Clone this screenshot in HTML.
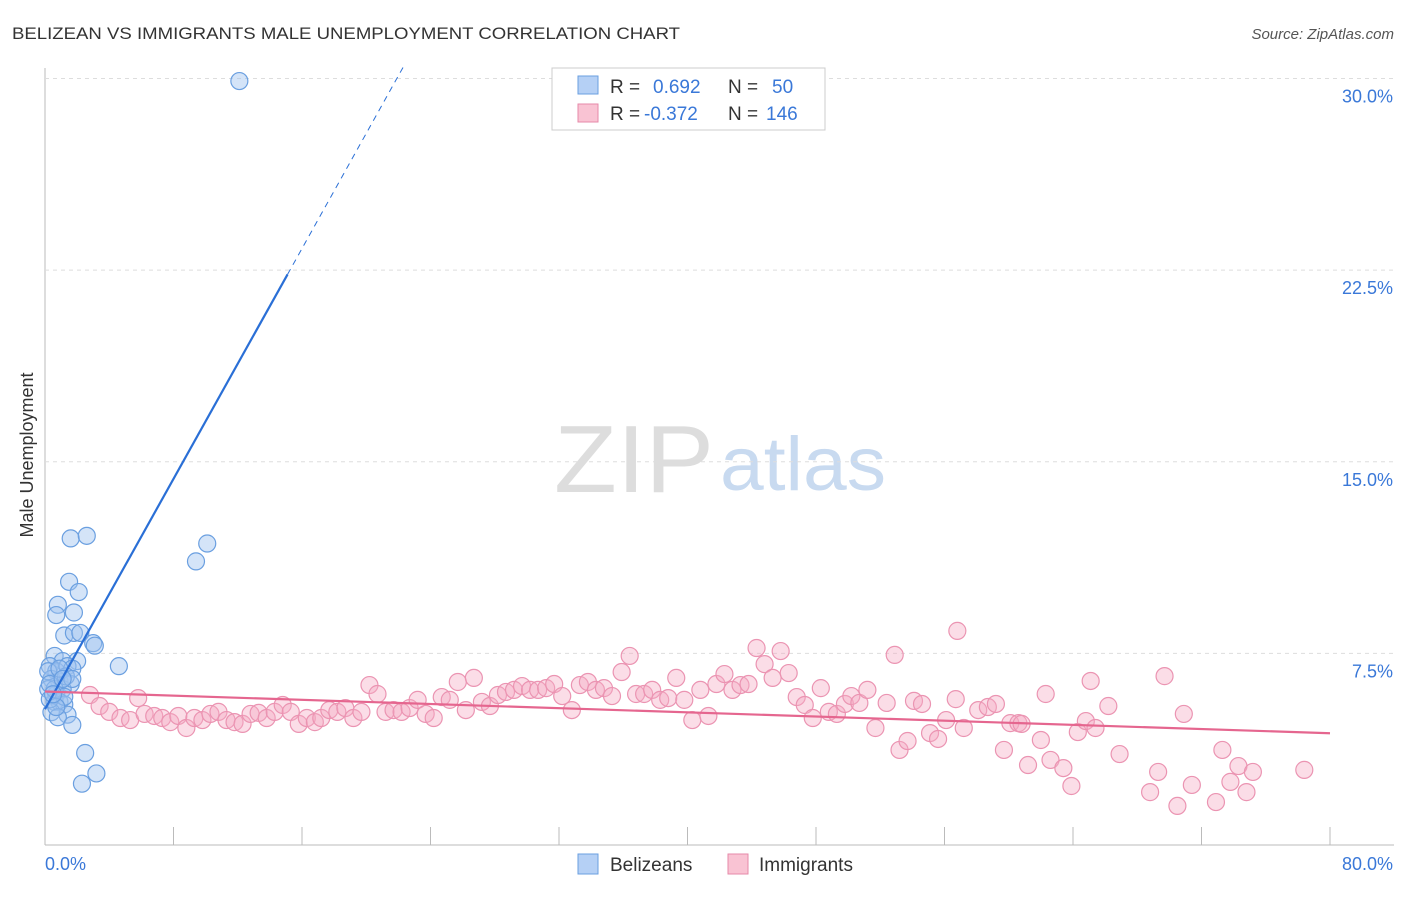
<!DOCTYPE html>
<html><head><meta charset="utf-8"><style>
body{margin:0;background:#fff;font-family:"Liberation Sans",sans-serif}
svg text{font-family:"Liberation Sans",sans-serif}
</style></head><body>
<svg id="c" width="1406" height="892" viewBox="0 0 1406 892">
<text x="12" y="39" font-size="17" fill="#333" textLength="668" lengthAdjust="spacingAndGlyphs">BELIZEAN VS IMMIGRANTS MALE UNEMPLOYMENT CORRELATION CHART</text>
<text x="1394" y="39" font-size="15" fill="#555" font-style="italic" text-anchor="end">Source: ZipAtlas.com</text>
<text x="714" y="492" font-size="96" font-family="Liberation Serif" fill="#ddd" text-anchor="end" textLength="160" lengthAdjust="spacingAndGlyphs">ZIP</text>
<text x="720" y="490" font-size="76" fill="#c8daf0" textLength="166" lengthAdjust="spacingAndGlyphs">atlas</text>
<text transform="translate(33,455) rotate(-90)" font-size="18" fill="#333" text-anchor="middle">Male Unemployment</text>
<g id="grid"></g><g id="ticks"></g><g id="pts"></g><g id="lines"></g>
<g>
<rect x="552" y="68" width="273" height="62" fill="#fff" stroke="#ccc"/>
<rect x="578" y="76" width="20" height="18" fill="#b5d0f5" stroke="#6a9fe0"/>
<rect x="578" y="104" width="20" height="18" fill="#f9c3d3" stroke="#e68aa8"/>
<text x="610" y="93" font-size="19" fill="#333">R = </text><text x="653" y="93" font-size="19" fill="#3a78d8">0.692</text>
<text x="728" y="93" font-size="19" fill="#333">N = </text><text x="772" y="93" font-size="19" fill="#3a78d8">50</text>
<text x="610" y="120" font-size="19" fill="#333">R = </text><text x="644" y="120" font-size="19" fill="#3a78d8">-0.372</text>
<text x="728" y="120" font-size="19" fill="#333">N = </text><text x="766" y="120" font-size="19" fill="#3a78d8">146</text>
</g>
<g>
<rect x="578" y="854" width="20" height="20" fill="#b5d0f5" stroke="#6a9fe0"/>
<text x="610" y="871" font-size="19" fill="#333">Belizeans</text>
<rect x="728" y="854" width="20" height="20" fill="#f9c3d3" stroke="#e68aa8"/>
<text x="759" y="871" font-size="19" fill="#333">Immigrants</text>
</g>
</svg>
<script>
const yTicks=[7.5,15,22.5,30];
const yTickLabels=["7.5%","15.0%","22.5%","30.0%"];
const xTickCount=10;
const xLabels=["0.0%","80.0%"];
const blueX=[12.1,1.6,2.6,10.1,9.4,1.5,2.1,0.8,1.8,0.7,1.2,1.8,2.2,3.0,3.1,4.6,0.6,1.1,2.0,0.3,0.7,1.4,1.7,0.9,0.4,1.6,0.2,0.7,1.1,0.6,0.9,1.2,0.4,1.4,0.8,1.7,2.5,2.3,3.2,0.3,0.6,1.3,0.2,0.9,1.2,0.3,1.7,0.7,1.1,0.5];
const blueY=[29.9,12.0,12.1,11.8,11.1,10.3,9.9,9.4,9.1,9.0,8.2,8.3,8.3,7.9,7.8,7.0,7.4,7.2,7.2,7.0,6.8,7.0,6.9,6.4,6.5,6.3,6.1,5.9,6.1,5.6,5.6,5.5,5.2,5.1,5.0,4.7,3.6,2.4,2.8,5.7,6.1,6.6,6.8,6.9,5.8,6.3,6.5,5.4,6.5,5.9];
const pinkX=[2.8,3.4,4.0,4.7,5.3,5.8,6.2,6.8,7.3,7.8,8.3,8.8,9.3,9.8,10.3,10.8,11.3,11.8,12.3,12.8,13.3,13.8,14.3,14.8,15.3,15.8,16.3,16.8,17.2,17.7,18.2,18.7,19.2,19.7,20.2,20.7,21.2,21.7,22.2,22.7,23.2,23.7,24.2,24.7,25.2,25.7,26.2,26.7,27.2,27.7,28.2,28.7,29.2,29.7,30.2,30.7,31.2,31.7,32.2,32.8,33.3,33.8,34.3,34.8,35.3,35.9,36.4,36.8,37.3,37.8,38.3,38.8,39.3,39.8,40.3,40.8,41.3,41.8,42.3,42.8,43.3,43.8,44.3,44.8,45.3,45.8,46.3,46.8,47.3,47.8,48.3,48.8,49.3,49.8,50.2,50.7,51.2,51.7,52.4,52.9,53.2,53.7,54.1,54.6,55.1,55.6,56.1,56.7,57.2,58.1,58.7,59.2,59.7,60.1,60.6,61.2,62.0,62.3,62.6,63.4,63.9,64.3,64.8,65.1,66.2,66.9,68.8,69.3,69.7,70.5,70.9,71.4,72.9,73.3,73.8,74.3,74.8,75.2,78.4,56.8,60.8,65.4];
const pinkY=[5.87,5.44,5.21,4.97,4.89,5.75,5.13,5.05,4.97,4.81,5.05,4.58,4.97,4.89,5.13,5.21,4.89,4.81,4.74,5.13,5.17,4.97,5.21,5.48,5.21,4.74,4.97,4.81,4.97,5.28,5.21,5.36,4.97,5.21,6.26,5.91,5.21,5.28,5.21,5.36,5.68,5.13,4.97,5.79,5.68,6.38,5.28,6.54,5.60,5.44,5.87,5.99,6.07,6.22,6.07,6.07,6.14,6.30,5.83,5.28,6.26,6.38,6.07,6.14,5.83,6.77,7.40,5.91,5.91,6.07,5.68,5.75,6.54,5.68,4.89,6.07,5.05,6.30,6.69,6.07,6.26,6.30,7.71,7.08,6.54,7.59,6.73,5.79,5.48,4.97,6.14,5.21,5.13,5.52,5.83,5.56,6.07,4.58,5.56,7.44,3.72,4.07,5.64,5.52,4.38,4.15,4.89,5.71,4.58,5.28,5.40,5.52,3.72,4.77,4.77,3.13,4.11,5.91,3.33,3.01,2.31,4.42,4.85,6.42,5.44,3.56,2.07,2.86,6.61,1.53,5.13,2.35,1.68,3.72,2.47,3.09,2.07,2.86,2.94,8.38,4.74,4.58];
const X0=45,X1=1330,Y0=845,PPY=25.55;
const sx=v=>X0+v/80*(X1-X0), sy=v=>Y0-v*PPY;
const NS="http://www.w3.org/2000/svg";
function mk(t,a,p){const e=document.createElementNS(NS,t);for(const k in a)e.setAttribute(k,a[k]);p.appendChild(e);return e;}
const grid=document.getElementById('grid'),ticks=document.getElementById('ticks');
mk('line',{x1:X0,y1:68,x2:X0,y2:Y0,stroke:'#bbb'},grid);
mk('line',{x1:X0,y1:Y0,x2:1394,y2:Y0,stroke:'#bbb'},grid);
yTicks.forEach((v,i)=>{
 const g=mk('line',{x1:X0,y1:sy(v),x2:1394,y2:sy(v),stroke:'#ddd','stroke-dasharray':'4,4'},grid);
 
 
 const t=mk('text',{x:1393,y:sy(v)+24,'font-size':18,fill:'#3a78d8','text-anchor':'end'},ticks);
 t.textContent=yTickLabels[i];
 
 
});
for(let i=1;i<=xTickCount;i++){const x=sx(i*80/xTickCount);
 const l=mk('line',{x1:x,y1:Y0-18,x2:x,y2:Y0,stroke:'#bbb'},ticks);
 
 }
const xl0=mk('text',{x:45,y:870,'font-size':18,fill:'#3a78d8'},ticks);xl0.textContent=xLabels[0];


const xl1=mk('text',{x:1393,y:870,'font-size':18,fill:'#3a78d8','text-anchor':'end'},ticks);xl1.textContent=xLabels[1];


const pts=document.getElementById('pts');
pinkX.forEach((v,i)=>{const c=mk('circle',{cx:sx(v),cy:sy(pinkY[i]),r:8.5,fill:'rgba(246,170,196,0.4)',stroke:'#eb94b2','stroke-width':1.2},pts);
 
 });
blueX.forEach((v,i)=>{const c=mk('circle',{cx:sx(v),cy:sy(blueY[i]),r:8.5,fill:'rgba(160,196,240,0.45)',stroke:'#6a9fe0','stroke-width':1.2},pts);
 
 });
function reg(xs,ys){const n=xs.length;let mx=0,my=0;for(let i=0;i<n;i++){mx+=xs[i];my+=ys[i];}mx/=n;my/=n;let a=0,b=0;for(let i=0;i<n;i++){a+=(xs[i]-mx)*(ys[i]-my);b+=(xs[i]-mx)**2;}const m=a/b;return [m,my-m*mx];}
const lines=document.getElementById('lines');
const [bm,bb]=reg(blueX,blueY);
const xs1=15.1, xe=(30.5-bb)/bm;
const bl=mk('line',{x1:sx(0),y1:sy(bb),x2:sx(xs1),y2:sy(bb+bm*xs1),stroke:'#2a6fd6','stroke-width':2.2},lines);


const bd=mk('line',{x1:sx(xs1),y1:sy(bb+bm*xs1),x2:sx(xe),y2:sy(30.5),stroke:'#2a6fd6','stroke-width':1,'stroke-dasharray':'6,5'},lines);


const [pm,pb]=reg(pinkX,pinkY);
const pl=mk('line',{x1:sx(0),y1:sy(pb),x2:sx(80),y2:sy(pb+pm*80),stroke:'#e5668f','stroke-width':2.2},lines);


</script>
</body></html>
